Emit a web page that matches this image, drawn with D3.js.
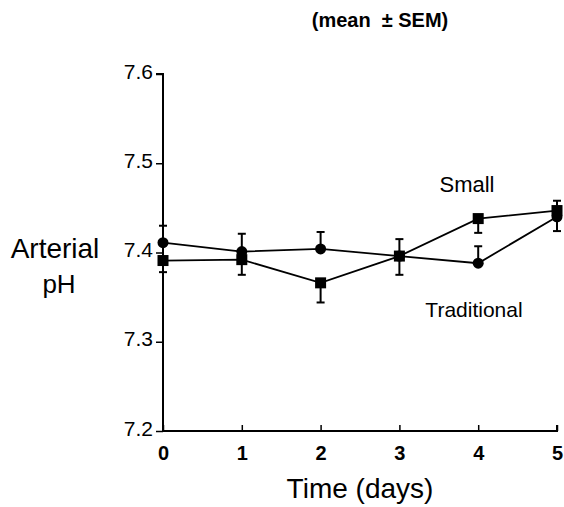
<!DOCTYPE html>
<html>
<head>
<meta charset="utf-8">
<script src="https://cdn.jsdelivr.net/npm/d3@7"></script>
<style>
  body { margin: 0; background: #fff; }
  text { font-family: "Liberation Sans", Arial, sans-serif; fill: #000; }
</style>
</head>
<body>
<svg id="chart" width="564" height="507"></svg>
<script>
(function() {
  var days, smallPh, smallSem, smallDir, tradPh, tradSem, tradDir, yTicks;
  var svg, x, y, line, series;

  days = [0, 1, 2, 3, 4, 5];
  yTicks = [7.2, 7.3, 7.4, 7.5, 7.6];

  // squares
  smallPh = [7.391, 7.392, 7.366, 7.396, 7.438, 7.447];
  smallSem = [0.013, 0.017, 0.022, 0.021, 0.016, 0.011];
  smallDir = [-1, -1, -1, -1, -1, 1];

  // circles
  tradPh = [7.411, 7.401, 7.404, 7.396, 7.388, 7.440];
  tradSem = [0.019, 0.020, 0.019, 0.019, 0.019, 0.016];
  tradDir = [1, 1, 1, 1, 1, -1];

  svg = d3.select('#chart');

  x = d3.scaleLinear().domain([0, 5]).range([163, 557]);
  y = d3.scaleLinear().domain([7.2, 7.6]).range([431, 74]);

  // y axis
  svg.append('g')
    .attr('transform', 'translate(163,0)')
    .call(d3.axisLeft(y).tickValues(yTicks).tickFormat(d3.format('.1f')).tickSize(7).tickPadding(3))
    .call(function(g) {
      g.select('.domain').attr('stroke-width', 2).attr('d', 'M-7,' + y(7.6) + 'H0V' + y(7.2));
      g.selectAll('.tick line').attr('stroke-width', 1.5);
      g.selectAll('.tick text').attr('font-size', 21).attr('dy', '0.2em');
    });

  // x axis, ticks pointing up
  svg.append('g')
    .attr('transform', 'translate(0,431)')
    .call(d3.axisBottom(x).tickValues(days).tickFormat(d3.format('d')).tickSize(-6).tickPadding(15))
    .call(function(g) {
      g.select('.domain').attr('stroke-width', 2).attr('d', 'M' + x(0) + ',0H' + x(5) + 'V-6');
      g.selectAll('.tick line').attr('stroke-width', 1.5);
      g.selectAll('.tick text').attr('font-size', 20).attr('font-weight', 'bold').attr('dy', '0.71em');
    });

  line = d3.line()
    .x(function(d) { return x(d.day); })
    .y(function(d) { return y(d.ph); });

  series = [
    { name: 'small', ph: smallPh, sem: smallSem, dir: smallDir },
    { name: 'trad', ph: tradPh, sem: tradSem, dir: tradDir }
  ].map(function(s) {
    s.points = days.map(function(d, i) {
      return { day: d, ph: s.ph[i], sem: s.sem[i], dir: s.dir[i] };
    });
    return s;
  });

  series.forEach(function(s) {
    var g = svg.append('g').attr('class', s.name);

    g.append('path')
      .datum(s.points)
      .attr('fill', 'none')
      .attr('stroke', '#000')
      .attr('stroke-width', 1.8)
      .attr('d', line);

    // one-sided error bars
    g.selectAll('line.err').data(s.points).enter().append('line')
      .attr('class', 'err')
      .attr('x1', function(d) { return x(d.day); })
      .attr('x2', function(d) { return x(d.day); })
      .attr('y1', function(d) { return y(d.ph); })
      .attr('y2', function(d) { return y(d.ph + d.dir * d.sem); })
      .attr('stroke', '#000').attr('stroke-width', 2);

    g.selectAll('line.cap').data(s.points).enter().append('line')
      .attr('class', 'cap')
      .attr('x1', function(d) { return x(d.day) - 4; })
      .attr('x2', function(d) { return x(d.day) + 4; })
      .attr('y1', function(d) { return y(d.ph + d.dir * d.sem); })
      .attr('y2', function(d) { return y(d.ph + d.dir * d.sem); })
      .attr('stroke', '#000').attr('stroke-width', 2);

    if (s.name === 'small') {
      g.selectAll('rect').data(s.points).enter().append('rect')
        .attr('x', function(d) { return x(d.day) - 5.5; })
        .attr('y', function(d) { return y(d.ph) - 5.5; })
        .attr('width', 11).attr('height', 11)
        .attr('fill', '#000');
    } else {
      g.selectAll('circle').data(s.points).enter().append('circle')
        .attr('cx', function(d) { return x(d.day); })
        .attr('cy', function(d) { return y(d.ph); })
        .attr('r', 5.5)
        .attr('fill', '#000');
    }
  });

  // texts
  svg.append('text').attr('x', 380).attr('y', 27).attr('text-anchor', 'middle')
    .attr('font-size', 20).attr('font-weight', 'bold')
    .style('white-space', 'pre')
    .text('(mean  ± SEM)');

  svg.append('text').attr('x', 467).attr('y', 192).attr('text-anchor', 'middle')
    .attr('font-size', 22).text('Small');

  svg.append('text').attr('x', 474).attr('y', 317).attr('text-anchor', 'middle')
    .attr('font-size', 21).text('Traditional');

  svg.append('text').attr('x', 55).attr('y', 258).attr('text-anchor', 'middle')
    .attr('font-size', 28).text('Arterial');
  svg.append('text').attr('x', 59).attr('y', 293).attr('text-anchor', 'middle')
    .attr('font-size', 26).text('pH');

  svg.append('text').attr('x', 360).attr('y', 498).attr('text-anchor', 'middle')
    .attr('font-size', 28).text('Time (days)');
}).call(this);
</script>
</body>
</html>
